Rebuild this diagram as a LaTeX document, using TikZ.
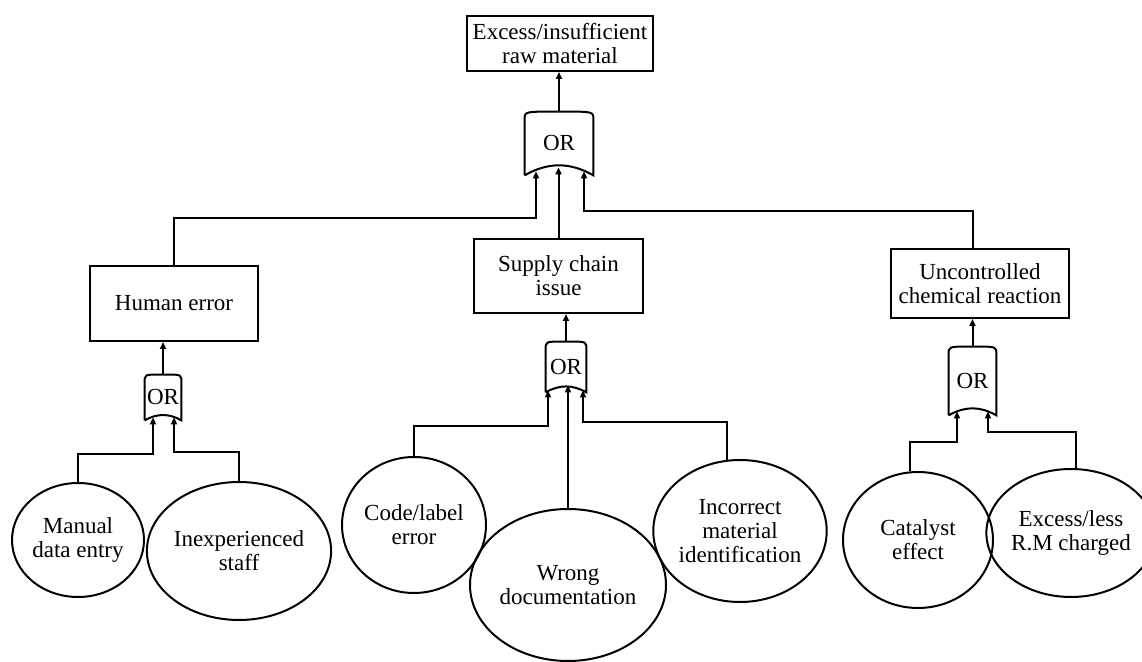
\documentclass[tikz,border=0pt]{standalone}
\usepackage{fontspec}
\setmainfont{Liberation Serif}
\usetikzlibrary{positioning, arrows.meta, calc, shapes.geometric}
\tikzset{
  eventbox/.style={draw, rectangle, line width=1pt, align=center, inner sep=1pt,
                   font=\fontsize{11.5}{12}\selectfont},
  basicev/.style={draw, ellipse, line width=1pt, align=center, inner sep=0pt,
                  font=\fontsize{11.5}{12}\selectfont},
  orgate/.style={rectangle, inner sep=0pt, font=\fontsize{11.5}{12}\selectfont},
  gateline/.style={line width=1pt},
  arr/.style={-{Triangle[length=3.5pt,width=3pt]}, line width=1pt},
}
% OR gate outline drawn round a named node
\newcommand{\orshape}[1]{%
  \draw[gateline] (#1.south west) -- ([yshift=-4pt]#1.north west)
    .. controls (#1.north west) .. ([xshift=-2pt]#1.north)
    -- ([xshift=2pt]#1.north)
    .. controls (#1.north east) .. ([yshift=-4pt]#1.north east)
    -- (#1.south east) to[bend right=30] (#1.south west);}

\begin{document}
\begin{tikzpicture}[x=0.5pt, y=-0.5pt]
  \useasboundingbox (0,0) rectangle (1142,662);
  % top event and its gate
  \node[eventbox, minimum width=93pt, minimum height=27.5pt] (top) at (560,43.5)
    {Excess/insufficient\\raw material};
  \node[orgate, minimum width=34pt, minimum height=31.5pt] (gtop) at (559,143.5) {OR};
  \orshape{gtop}
  % intermediate events
  \node[eventbox, minimum width=84pt, minimum height=37.5pt] (human) at (174,303.5)
    {Human error};
  \node[eventbox, minimum width=84.5pt, minimum height=37pt] (supply) at (558.5,276)
    {Supply chain\\issue};
  \node[eventbox, minimum width=89pt, minimum height=34.5pt] (chem) at (980,283.5)
    {Uncontrolled\\chemical reaction};
  % lower gates
  \node[orgate, minimum width=18pt, minimum height=22.5pt] (ghuman) at (163,397.5) {OR};
  \orshape{ghuman}
  \node[orgate, minimum width=20pt, minimum height=25pt] (gsupply) at (566,367) {OR};
  \orshape{gsupply}
  \node[orgate, minimum width=23.5pt, minimum height=34pt] (gchem) at (972.5,381) {OR};
  \orshape{gchem}
  % basic events
  \node[basicev, minimum width=66pt, minimum height=57pt] (manual) at (78,540)
    {Manual\\data entry};
  \node[basicev, minimum width=92pt, minimum height=69pt] (inexp) at (239,551)
    {Inexperienced\\staff};
  \node[basicev, minimum width=72pt, minimum height=68pt] (code) at (414,525)
    {Code/label\\error};
  \node[basicev, minimum width=98pt, minimum height=76pt] (wrongdoc) at (568,585)
    {Wrong\\documentation};
  \node[basicev, minimum width=80pt, minimum height=71pt] (incorrect) at (740,531)
    {Incorrect\\material\\identification};
  \node[basicev, minimum width=75pt, minimum height=68pt] (catalyst) at (918,540)
    {Catalyst\\effect};
  \node[basicev, minimum width=71pt, minimum height=64pt] (rmcharged) at (1071,533)
    {Excess/less\\R.M charged};
  % gate outputs
  \draw[arr] (gtop.north) -- (gtop.north |- top.south);
  \draw[arr] (ghuman.north) -- (ghuman.north |- human.south);
  \draw[arr] (gsupply.north) -- (gsupply.north |- supply.south);
  \draw[arr] (gchem.north) -- (gchem.north |- chem.south);
  % inputs of the top gate
  \draw[arr] (human.north) -- ++(0,-47) -| ($(gtop.south)+(-23,-4)$);
  \draw[arr] (supply.north) -- ($(gtop.south)+(-0.5,-8)$);
  \draw[arr] ([xshift=-3.5pt]chem.north) -- ++(0,-37) -| ($(gtop.south)+(25,-4)$);
  % inputs of the human error gate
  \draw[arr] (manual.north) -- ++(0,-28) -| ($(ghuman.south)+(-10,-3)$);
  \draw[arr] (inexp.north) -- ++(0,-29) -| ($(ghuman.south)+(11,-3)$);
  % inputs of the supply chain gate
  \draw[arr] (code.north) -- ++(0,-30) -| ($(gsupply.south)+(-18,-2)$);
  \draw[arr] (wrongdoc.north) -- ($(gsupply.south)+(2,-7)$);
  \draw[arr] (incorrect.100) -- ++(0,-38) -| ($(gsupply.south)+(17,-2)$);
  % inputs of the chemical reaction gate
  \draw[arr] (catalyst.97) -- ++(0,-29) -| ($(gchem.south)+(-15.5,-4)$);
  \draw[arr] (rmcharged.86) -- ++(0,-36) -| ($(gchem.south)+(15.5,-4)$);
\end{tikzpicture}
\end{document}
